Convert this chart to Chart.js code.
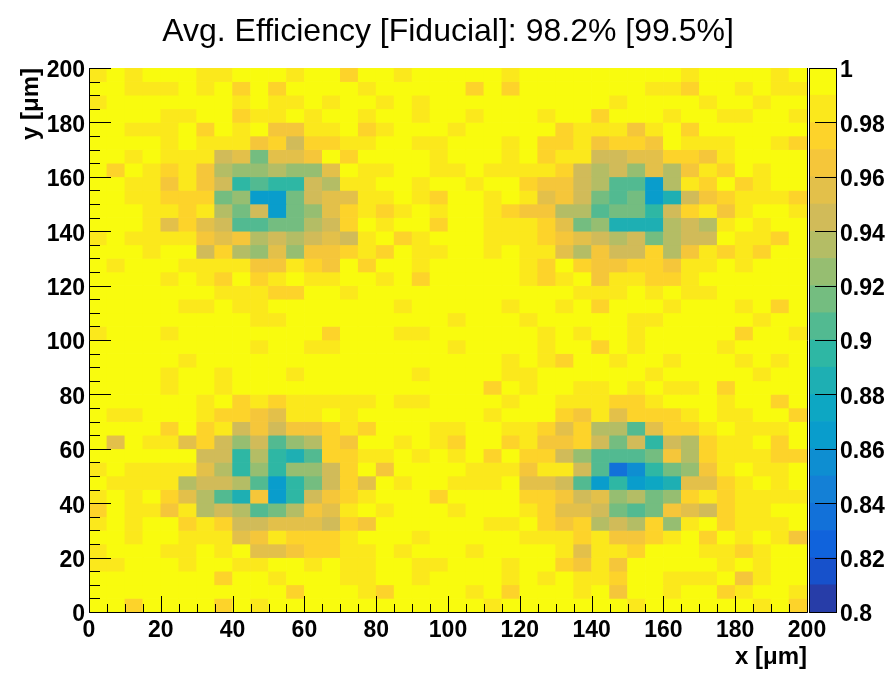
<!DOCTYPE html>
<html>
<head>
<meta charset="utf-8">
<title>Avg. Efficiency</title>
<script src="https://cdn.jsdelivr.net/npm/chart.js@4.4.1/dist/chart.umd.min.js"></script>
<style>
  body { margin: 0; background: #fff; }
  #wrap { position: relative; width: 896px; height: 681px; }
  #effChart { position: absolute; left: 0; top: 0; }
  #paletteChart { position: absolute; left: 809px; top: 0; }
</style>
</head>
<body>
<div id="wrap">
  <canvas id="effChart" width="896" height="681"></canvas>
  <canvas id="paletteChart" width="87" height="681"></canvas>
</div>
<script>
const chartTitle = 'Avg. Efficiency [Fiducial]: 98.2% [99.5%]';

// lower bin edges in um, same for x and y (40 bins of 5 um)
const binEdges = [0, 5, 10, 15, 20, 25, 30, 35, 40, 45, 50, 55, 60, 65, 70, 75, 80, 85, 90, 95,
                  100, 105, 110, 115, 120, 125, 130, 135, 140, 145, 150, 155, 160, 165, 170, 175, 180, 185, 190, 195];
const binWidth = 5;

// efficiency per cell, rows from top (y 195-200) to bottom (y 0-5), columns x 0 -> 200
// one char per cell: '0' = 0.80-0.81 ... '9' = 0.89-0.90, 'a' = 0.90-0.91 ... 'j' = 0.99-1.00
const bandCodes = '0123456789abcdefghij';
const effRows = [
  'ijijjjiijjjijj hjjijjjjjijjjj jjjjjijjjjij',
  'jjiiijijhjhjjj jijjjjjhjhjjjj jjjiihjjijii',
  'ijjjjjjjijiiji jjijijjjjjjjjj jijjjjijjijj',
  'jjjjiijjhiijij jijjijjijjjijj hjjjijjiijji',
  'jjiiijhjijggii jhijjjijjjjjhi iigijhjjjjjj',
  'jjjjijiiighehh iijjiijjjijhhi ghhgjiiijjih',
  'jjijiiiefbffgj hjjjjijjjijhii eeffhhgijjjj',
  'jhjihigdccdccf jiijjiijiiiihe decfdgihjijj',
  'jjiigige9a99ed iijjijjijjhgge daa6dihjhijj',
  'jjiihhhbc66bef fiijihjjijifge bab68eghiiih',
  'jjjiihidbe6bcf hihijijjihggdd abb9ehigijji',
  'jjjifhfeaabbde hjijjhjjiiihfb c888dedijijj',
  'ijiiiigfgdedef eijhijjjiiihgf edebdeejiihj',
  'jjjijjehdcfcgg hihjiijjijiifd geehdgihihjj',
  'jijjjiiiiggihg jhjjijjjjjihjh gghhgiijijjj',
  'jjjjijihjhijii jjijhjjjjjihij giihhijjjjjj',
  'jjjjjjjiiihhjj ijjjjjjjjjjjji iijijiijjjjj',
  'jjjjjiijiijjjj jjjijjjjjijjij hjjjijjjijhj',
  'jjjjjjjjjiijjj jjjjjjijjjijjj jjiijjjjjijj',
  'ijjjijjjjjjjjh jjjiijjjjjjiji jjijjjjjhjji',
  'jjjjjjjjjijjii jjjjjjijjjjijj hjijjjjijjjj',
  'jjjjjijjjjjjjj jjjjjjjjjijihj jijjijjjijij',
  'jjjjijjijjjijj jjjjijjjjiijjj jjjijjjjjijj',
  'jjjjijjijjjjjj jjjjjjjjhjijji ijijiijhjjjj',
  'jjjjjjijhihiii iijiijjjjijjii ihhijjjijjhj',
  'jiijjjihhgfiij ijjjjjjjijjjhg ifhhhijiijjh',
  'jjjjhjhiegeggh ihjjjiijjiihfh ddafhhijiiij',
  'jfjiifheceacdh gjjijihjjhiggh ebe9edhiijhj',
  'jjjjjjee9d98ah hiijijijhjhhec aaabgdhiiihh',
  'ijiiiifd9c9cce hjgjjjjiiigiie a359bcgijiij',
  'jiiiideeda69be hfjijjiiijffea 69678ffhijij',
  'ijijhfda8g69eg hijjjhjjjjhhge fcdbchihiiii',
  'hjiigidedabdgf ijijjjijjjihff ebabgfehiijj',
  'ijijjhiheefffe hgjjjjjjiijhgh dedhcijhiiij',
  'jjijjiiifgihhh ijjjijjjjjiiih igghijhjijig',
  'ijjjiijijffghh iijijjjijjjjif iihjjjiihijj',
  'iijjjijjiijjij iijjiijjjijjhg igjjjjjijijj',
  'jjjjjjjhjjijjj iijjijjjjijiji ihjjiiijgijj',
  'jjjjjjjjjjjhjj jihjjjjijhjjji jgjjijjhijji',
  'jjhjjjjhjijjjj jjjjjjjjijjjjj jjijjjjjjijh'
];

const xTicks = [0, 20, 40, 60, 80, 100, 120, 140, 160, 180, 200];
const yTicks = [0, 20, 40, 60, 80, 100, 120, 140, 160, 180, 200];
const zTicks = [0.8, 0.82, 0.84, 0.86, 0.88, 0.9, 0.92, 0.94, 0.96, 0.98, 1];
const zTickLabels = ['0.8', '0.82', '0.84', '0.86', '0.88', '0.9', '0.92', '0.94', '0.96', '0.98', '1'];
const zMin = 0.8, zMax = 1, zBands = 20;

// ROOT kBird palette
const birdStops = [0.0, 0.125, 0.25, 0.375, 0.5, 0.625, 0.75, 0.875, 1.0];
const birdR = [0.2082, 0.0592, 0.0780, 0.0232, 0.1802, 0.5301, 0.8186, 0.9956, 0.9764];
const birdG = [0.1664, 0.3599, 0.5041, 0.6419, 0.7178, 0.7492, 0.7328, 0.7862, 0.9832];
const birdB = [0.5293, 0.8684, 0.8385, 0.7914, 0.6425, 0.4662, 0.3499, 0.1968, 0.0539];

function birdColor(t) {
    let i = 0;
    while (i < birdStops.length - 2 && t > birdStops[i + 1]) i++;
    const f = (t - birdStops[i]) / (birdStops[i + 1] - birdStops[i]);
    const mix = arr => Math.round(255 * (arr[i] + (arr[i + 1] - arr[i]) * f));
    return 'rgb(' + mix(birdR) + ',' + mix(birdG) + ',' + mix(birdB) + ')';
}

// colour of contour band k (0..19), picked from the 255-colour table like ROOT does
function bandColor(k) {
    const idx = Math.floor((k + 0.99) * 255 / zBands);
    return birdColor(idx / 254);
}

function valueBand(v) {
    return Math.max(0, Math.min(zBands - 1, Math.floor((v - zMin) / (zMax - zMin) * zBands + 1e-6)));
}

const tickFont = { family: 'Liberation Sans', size: 23, weight: 'bold' };
const axisTitleFont = { family: 'Liberation Sans', size: 24, weight: 'bold' };

const datasets = effRows.map((row, r) => {
    const codes = row.replace(/ /g, '');
    if (codes.length !== binEdges.length) console.warn('row', r, 'has', codes.length, 'cells');
    const yLo = binEdges[binEdges.length - 1 - r];
    const vals = codes.split('').map(ch => zMin + 0.01 * bandCodes.indexOf(ch) + 0.005);
    return {
        data: vals.map((v, c) => ({ x: binEdges[c] + binWidth / 2, y: [yLo, yLo + binWidth] })),
        backgroundColor: vals.map(v => bandColor(valueBand(v))),
        borderWidth: 0,
        grouped: false,
        barPercentage: 1,
        categoryPercentage: 1
    };
});

// frame and inward ticks, ROOT style
const rootFrame = {
    id: 'rootFrame',
    afterDatasetsDraw(chart) {
        const { ctx, chartArea: a, scales: { x, y } } = chart;
        const px = v => Math.round(v) + 0.5;
        ctx.save();
        ctx.strokeStyle = '#000';
        ctx.lineWidth = 1;
        ctx.beginPath();
        ctx.moveTo(px(a.left), a.top);
        ctx.lineTo(px(a.left), px(a.bottom));
        ctx.lineTo(px(a.right), px(a.bottom));
        ctx.lineTo(px(a.right), a.top);
        for (let v = 0; v <= 200; v += binWidth) {
            const major = v % 20 === 0;
            const tx = px(x.getPixelForValue(v));
            const ty = px(y.getPixelForValue(v));
            ctx.moveTo(tx, px(a.bottom));
            ctx.lineTo(tx, a.bottom - (major ? 16 : 8));
            ctx.moveTo(px(a.left), ty);
            ctx.lineTo(a.left + (major ? 22 : 11), ty);
        }
        ctx.stroke();
        ctx.restore();
    }
};

new Chart(document.getElementById('effChart'), {
    type: 'bar',
    data: { datasets: datasets },
    options: {
        responsive: false,
        animation: false,
        events: [],
        layout: { padding: 0 },
        plugins: {
            legend: { display: false },
            tooltip: { enabled: false },
            title: {
                display: true,
                text: chartTitle,
                color: '#000',
                font: { family: 'Liberation Sans', size: 32, weight: 'normal' },
                padding: { top: 12.8, bottom: 16.8 }
            }
        },
        scales: {
            x: {
                type: 'linear',
                min: 0,
                max: 200,
                offset: false,
                grid: { display: false, drawTicks: false },
                border: { display: false },
                afterBuildTicks: s => { s.ticks = xTicks.map(v => ({ value: v })); },
                afterFit: s => { s.height = 69; },
                ticks: { color: '#000', font: tickFont, padding: 5, maxRotation: 0, autoSkip: false },
                title: { display: true, text: 'x [μm]', align: 'end', color: '#000', font: axisTitleFont,
                         padding: { top: 0, bottom: 9.6 } }
            },
            y: {
                type: 'linear',
                min: 0,
                max: 200,
                grid: { display: false, drawTicks: false },
                border: { display: false },
                afterBuildTicks: s => { s.ticks = yTicks.map(v => ({ value: v })); },
                afterFit: s => { s.width = 89; },
                ticks: { color: '#000', font: tickFont, padding: 4, labelOffset: 3, autoSkip: false },
                title: { display: true, text: 'y [μm]', align: 'end', color: '#000', font: axisTitleFont,
                         padding: { top: 16.6, bottom: 0 } }
            },
            // empty strip on the right that leaves room for the colour scale
            yRight: {
                type: 'linear',
                position: 'right',
                min: 0,
                max: 200,
                grid: { display: false, drawTicks: false },
                border: { display: false },
                ticks: { display: false },
                afterFit: s => { s.width = 89; }
            }
        }
    },
    plugins: [rootFrame]
});

// colour scale on the right
const paletteFrame = {
    id: 'paletteFrame',
    afterDatasetsDraw(chart) {
        const { ctx, chartArea: a, scales: { y } } = chart;
        ctx.save();
        ctx.strokeStyle = '#000';
        ctx.lineWidth = 1;
        ctx.strokeRect(Math.round(a.left) + 0.5, Math.round(a.top) + 0.5,
                       Math.round(a.right - a.left) - 1, Math.round(a.bottom - a.top));
        ctx.beginPath();
        zTicks.forEach(v => {
            const ty = Math.round(y.getPixelForValue(v)) + 0.5;
            ctx.moveTo(a.right, ty);
            ctx.lineTo(a.right - 22, ty);
        });
        ctx.stroke();
        ctx.restore();
    }
};

const paletteSets = bandCodes.split('').map((ch, k) => ({
    data: [[zMin + (zMax - zMin) * k / zBands, zMin + (zMax - zMin) * (k + 1) / zBands]],
    backgroundColor: bandColor(k),
    borderWidth: 0,
    grouped: false,
    barPercentage: 1,
    categoryPercentage: 1
}));

new Chart(document.getElementById('paletteChart'), {
    type: 'bar',
    data: { labels: ['eff'], datasets: paletteSets },
    options: {
        responsive: false,
        animation: false,
        events: [],
        layout: { padding: { top: 68, bottom: 69, left: 0, right: 0 } },
        plugins: { legend: { display: false }, tooltip: { enabled: false } },
        scales: {
            x: { display: false },
            y: {
                position: 'right',
                min: zMin,
                max: zMax,
                grid: { display: false, drawTicks: false },
                border: { display: false },
                afterBuildTicks: s => { s.ticks = zTicks.map(v => ({ value: v })); },
                afterFit: s => { s.width = 59; },
                ticks: {
                    color: '#000', font: tickFont, padding: 3, labelOffset: 3, autoSkip: false,
                    callback: (value, index) => zTickLabels[index]
                }
            }
        }
    },
    plugins: [paletteFrame]
});
</script>
</body>
</html>
